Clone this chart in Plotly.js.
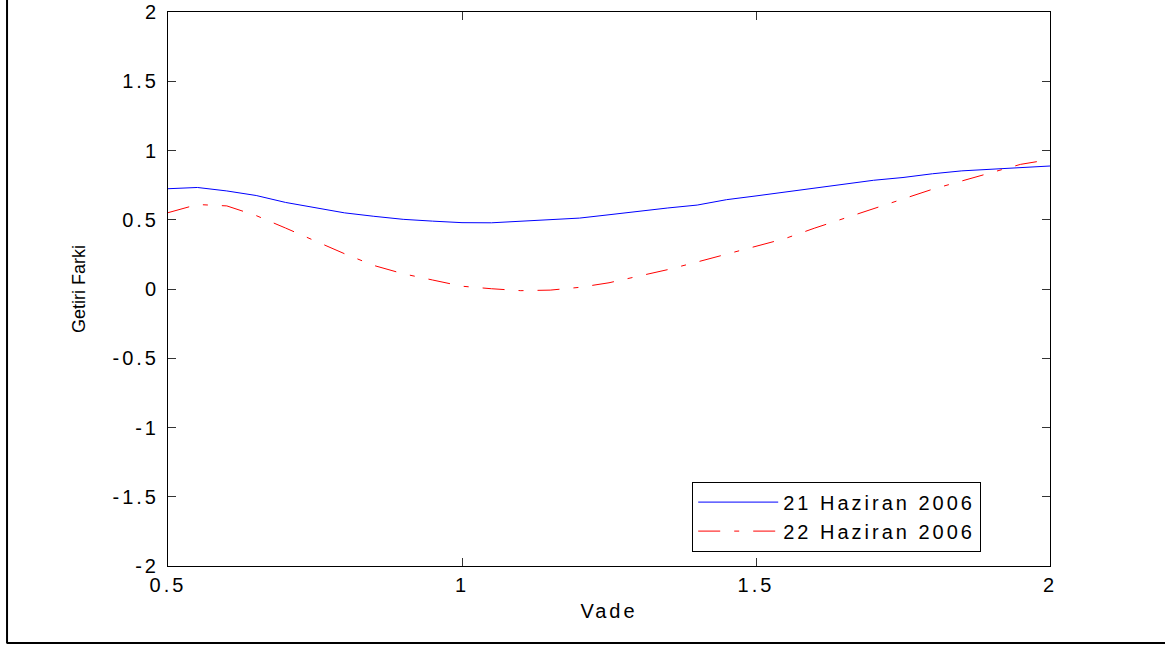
<!DOCTYPE html>
<html>
<head>
<meta charset="utf-8">
<script src="https://cdn.plot.ly/plotly-3.0.1.min.js"></script>
<style>
  html, body { margin: 0; padding: 0; background: #fff; }
  svg text { letter-spacing: 3px; }
  svg text.ytitle { letter-spacing: 0px; }
</style>
</head>
<body>
<div id="chart" style="width:1165px;height:646px;"></div>
<script>
// Maturity (Vade)
const vade = [0.50,0.55,0.60,0.65,0.70,0.75,0.80,0.85,0.90,0.95,1.00,1.05,1.10,1.15,1.20,1.25,1.30,1.35,1.40,1.45,1.50,1.55,1.60,1.65,1.70,1.75,1.80,1.85,1.90,1.95,2.00];
// 21 Haziran 2006
const spread21 = [0.724,0.733,0.708,0.675,0.625,0.585,0.550,0.525,0.503,0.490,0.479,0.478,0.490,0.500,0.512,0.536,0.563,0.585,0.606,0.645,0.672,0.700,0.733,0.760,0.785,0.805,0.832,0.853,0.866,0.878,0.888];
// 22 Haziran 2006
const spread22 = [0.551,0.610,0.600,0.530,0.440,0.345,0.255,0.170,0.110,0.065,0.020,0.002,-0.012,-0.008,0.012,0.045,0.090,0.140,0.195,0.250,0.305,0.365,0.440,0.510,0.585,0.655,0.720,0.780,0.840,0.900,0.935];

const seriesNames = ["21 Haziran 2006", "22 Haziran 2006"];
const xTicks = [0.5, 1, 1.5, 2];
const xTickLabels = ["0.5", "1", "1.5", "2"];
const yTicks = [-2, -1.5, -1, -0.5, 0, 0.5, 1, 1.5, 2];
const yTickLabels = ["-2", "-1.5", "-1", "-0.5", "0", "0.5", "1", "1.5", "2"];

const FONT = "Arial, 'Liberation Sans', Helvetica, sans-serif";

const traces = [
  { x: vade, y: spread21, type: "scatter", mode: "lines", name: seriesNames[0],
    line: { color: "#0000ff", width: 1 } },
  { x: vade, y: spread22, type: "scatter", mode: "lines", name: seriesNames[1],
    line: { color: "#ff0000", width: 1, dash: "22px,14px,5px,14px" } }
];

const axisCommon = {
  showgrid: false, zeroline: false,
  showline: true, linecolor: "#000", linewidth: 1, mirror: "ticks",
  ticks: "inside", ticklen: 8, tickwidth: 1, tickcolor: "#333",
  tickfont: { family: FONT, size: 20, color: "#000" }
};

const layout = {
  width: 1165, height: 646,
  margin: { l: 168, r: 115, t: 12, b: 80 },
  paper_bgcolor: "#fff", plot_bgcolor: "#fff",
  showlegend: true,
  font: { family: FONT, color: "#000" },
  xaxis: Object.assign({}, axisCommon, {
    range: [0.5, 2], tickmode: "array", tickvals: xTicks, ticktext: xTickLabels,
    ticklabelstandoff: 1,
    title: { text: "Vade", font: { family: FONT, size: 20, color: "#000" }, standoff: 8 }
  }),
  yaxis: Object.assign({}, axisCommon, {
    range: [-2, 2], tickmode: "array", tickvals: yTicks, ticktext: yTickLabels,
    ticklabelstandoff: 4,
    title: { text: "Getiri Farki", font: { family: FONT, size: 18, color: "#000" }, standoff: 22 }
  }),
  legend: {
    x: 0.922, y: 0.026, xanchor: "right", yanchor: "bottom",
    bgcolor: "#fff", bordercolor: "#000", borderwidth: 1,
    font: { family: FONT, size: 20, color: "#000" },
    itemwidth: 80, tracegroupgap: 0, entrywidth: 280
  },
  shapes: [
    { type: "line", xref: "paper", yref: "paper", x0: -0.1825, x1: -0.1825, y0: -0.14, y1: 1.03,
      line: { color: "#000", width: 2 } },
    { type: "line", xref: "paper", yref: "paper", x0: -0.1825, x1: 1.14, y0: -0.1390, y1: -0.1390,
      line: { color: "#000", width: 2 } }
  ]
};

Plotly.newPlot("chart", traces, layout, { displayModeBar: false, staticPlot: true });
</script>
</body>
</html>
